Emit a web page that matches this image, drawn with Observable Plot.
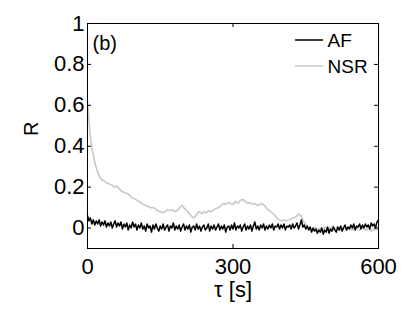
<!DOCTYPE html>
<html>
<head>
<meta charset="utf-8">
<script src="https://cdn.jsdelivr.net/npm/d3@7"></script>
<script src="https://cdn.jsdelivr.net/npm/@observablehq/plot@0.6"></script>
<style>
  html, body { margin: 0; padding: 0; background: #fff; }
  #chart { width: 415px; height: 313px; }
</style>
</head>
<body>
<div id="chart"></div>
<script>
// AF: lag tau [s], every 3 s
const tauAF = [
  0,3,6,9,12,15,18,21,24,27, 30,33,36,39,42,45,48,51,54,57,
  60,63,66,69,72,75,78,81,84,87, 90,93,96,99,102,105,108,111,114,117,
  120,123,126,129,132,135,138,141,144,147, 150,153,156,159,162,165,168,171,174,177,
  180,183,186,189,192,195,198,201,204,207, 210,213,216,219,222,225,228,231,234,237,
  240,243,246,249,252,255,258,261,264,267, 270,273,276,279,282,285,288,291,294,297,
  300,303,306,309,312,315,318,321,324,327, 330,333,336,339,342,345,348,351,354,357,
  360,363,366,369,372,375,378,381,384,387, 390,393,396,399,402,405,408,411,414,417,
  420,423,426,429,432,435,438,441,444,447, 450,453,456,459,462,465,468,471,474,477,
  480,483,486,489,492,495,498,501,504,507, 510,513,516,519,522,525,528,531,534,537,
  540,543,546,549,552,555,558,561,564,567, 570,573,576,579,582,585,588,591,594,597, 600
];
const afR = [
  0.06,0.035,0.05,0.02,0.04,0.015,0.035,0.02,0.04,0.01,
  0.03,0.015,0.035,0.005,0.025,0.01,0.03,0.0,0.02,0.035,
  0.005,0.025,0.01,0.03,-0.005,0.02,0.005,0.025,-0.01,0.015,
  0.0,0.03,0.005,0.02,-0.01,0.015,0.0,0.025,-0.005,0.01,
  -0.015,0.02,0.0,0.01,-0.02,0.015,-0.005,0.02,0.0,-0.015,
  0.01,-0.005,0.02,-0.01,0.005,0.015,-0.015,0.01,0.0,0.025,
  -0.01,0.01,-0.005,0.015,-0.015,0.005,0.02,-0.01,0.01,-0.005,
  0.015,-0.02,0.005,0.01,-0.01,0.02,-0.005,0.01,-0.015,0.005,
  0.015,-0.01,0.0,0.02,-0.015,0.01,-0.005,0.015,-0.01,0.005,
  0.02,-0.01,0.01,-0.005,0.015,-0.02,0.005,0.01,-0.01,0.015,
  -0.005,0.025,-0.01,0.01,0.0,0.015,-0.015,0.005,0.02,-0.01,
  0.01,-0.005,0.015,-0.015,0.01,0.03,-0.005,0.01,-0.01,0.015,
  0.0,0.02,-0.01,0.01,-0.005,0.015,0.0,0.02,-0.01,0.01,
  0.005,0.02,-0.005,0.015,0.0,0.02,-0.01,0.01,0.005,0.015,
  -0.005,0.02,0.0,0.01,0.025,-0.005,0.015,0.04,0.005,0.015,
  -0.005,0.01,-0.01,0.005,-0.02,0.0,-0.015,-0.005,-0.025,-0.01,
  -0.02,0.0,-0.03,-0.01,-0.02,0.005,-0.025,-0.005,-0.015,0.005,
  -0.01,-0.02,0.005,-0.01,0.01,-0.015,0.0,0.015,-0.01,0.005,
  -0.005,0.015,0.0,0.02,-0.01,0.01,0.005,0.02,-0.005,0.015,
  0.0,0.02,0.005,0.015,-0.005,0.025,0.01,0.02,0.0,0.03,
  0.04
];
// NSR: lag tau [s], every 5 s
const tauNSR = [
  0,5,10,15,20,25,30,35,40,45,50,55,60,65,70,75,80,85,90,95,
  100,105,110,115,120,125,130,135,140,145,150,155,160,165,170,175,180,185,190,195,
  200,205,210,215,220,225,230,235,240,245,250,255,260,265,270,275,280,285,290,295,
  300,305,310,315,320,325,330,335,340,345,350,355,360,365,370,375,380,385,390,395,
  400,405,410,415,420,425,430,435,440,445,450,455,460,465,470,475,480,485,490,495,
  500,505,510,515,520,525,530,535,540,545,550,555,560,565,570,575,580,585,590,595,600
];
const nsrR = [
  0.62,0.46,0.38,0.32,0.28,0.25,0.235,0.23,0.22,0.215,0.21,0.2,0.205,0.195,0.18,0.175,0.17,0.165,0.15,0.145,
  0.14,0.13,0.125,0.115,0.11,0.105,0.1,0.1,0.095,0.085,0.08,0.075,0.08,0.09,0.085,0.09,0.08,0.085,0.1,0.11,
  0.095,0.085,0.07,0.055,0.05,0.065,0.08,0.07,0.08,0.075,0.085,0.08,0.09,0.095,0.1,0.11,0.12,0.115,0.125,0.12,
  0.115,0.13,0.12,0.135,0.14,0.13,0.12,0.125,0.115,0.12,0.11,0.115,0.12,0.11,0.095,0.085,0.075,0.065,0.05,0.04,
  0.035,0.04,0.035,0.04,0.045,0.05,0.055,0.07,0.06,0.035,0.02,0.005,0.0,-0.01,0.005,-0.01,0.0,-0.015,0.005,-0.01,
  0.0,0.01,-0.005,0.005,-0.01,0.0,0.01,-0.005,0.005,-0.01,0.0,0.005,-0.01,0.0,-0.005,-0.01,0.0,-0.015,-0.005,-0.01,-0.005
];
const xTicks = [0, 300, 600];
const yTicks = [0, 0.2, 0.4, 0.6, 0.8, 1];
const seriesNames = ["AF", "NSR"];
const seriesColors = ["#000000", "#c8c8c8"];

const afData = tauAF.map((t, i) => ({tau: t, R: afR[i]}));
const nsrData = tauNSR.map((t, i) => ({tau: t, R: nsrR[i]}));

const W = 415, H = 313;
const mL = 87, mR = 37, mT = 23, mB = 65;
const fw = W - mL - mR, fh = H - mT - mB;
const tk = 4;

const chart = Plot.plot({
  width: W,
  height: H,
  marginLeft: mL,
  marginRight: mR,
  marginTop: mT,
  marginBottom: mB,
  style: {fontFamily: "'Liberation Sans', Arial, Helvetica, sans-serif", background: "#fff", color: "#000", overflow: "visible"},
  x: {domain: [0, 600], axis: null},
  y: {domain: [-0.1, 1], axis: null},
  marks: [
    Plot.line(nsrData, {x: "tau", y: "R", stroke: seriesColors[1], strokeWidth: 1.6}),
    Plot.line(afData, {x: "tau", y: "R", stroke: seriesColors[0], strokeWidth: 1.5}),
    Plot.frame({stroke: "#000", strokeWidth: 1}),
    // inward ticks on all sides
    Plot.tickX(xTicks, {x: d => d, insetTop: fh - tk, stroke: "#000"}),
    Plot.tickX(xTicks, {x: d => d, insetBottom: fh - tk, stroke: "#000"}),
    Plot.tickY(yTicks, {y: d => d, insetRight: fw - tk, stroke: "#000"}),
    Plot.tickY(yTicks, {y: d => d, insetLeft: fw - tk, stroke: "#000"}),
    Plot.axisX({ticks: xTicks, tickSize: 0, tickPadding: 10, fontSize: 22, label: null, tickFormat: d => String(d)}),
    Plot.axisY({ticks: yTicks, tickSize: 0, tickPadding: 3, fontSize: 22, label: null, tickFormat: d => String(d)}),
    Plot.text(["R"], {frameAnchor: "left", dx: -56, rotate: -90, fontSize: 20, fill: "#000"}),
    Plot.text(["τ [s]"], {frameAnchor: "bottom", dy: 33, lineAnchor: "top", fontSize: 22, fill: "#000"}),
    Plot.text(["(b)"], {frameAnchor: "top-left", textAnchor: "start", lineAnchor: "top", dx: 5, dy: 12, fontSize: 20, fill: "#000"}),
    Plot.text([seriesNames[0]], {frameAnchor: "top-right", textAnchor: "start", lineAnchor: "top", dx: -51, dy: 10, fontSize: 19, fill: "#000"}),
    Plot.text([seriesNames[1]], {frameAnchor: "top-right", textAnchor: "start", lineAnchor: "top", dx: -51, dy: 36, fontSize: 19, fill: "#000"})
  ]
});

// legend line samples
const svg = d3.select(chart);
const legY = [40, 66];
seriesNames.forEach((n, i) => {
  svg.append("line")
    .attr("x1", W - mR - 83).attr("x2", W - mR - 55)
    .attr("y1", legY[i]).attr("y2", legY[i])
    .attr("stroke", seriesColors[i])
    .attr("stroke-width", 1.5);
});

document.getElementById("chart").appendChild(chart);
</script>
</body>
</html>
